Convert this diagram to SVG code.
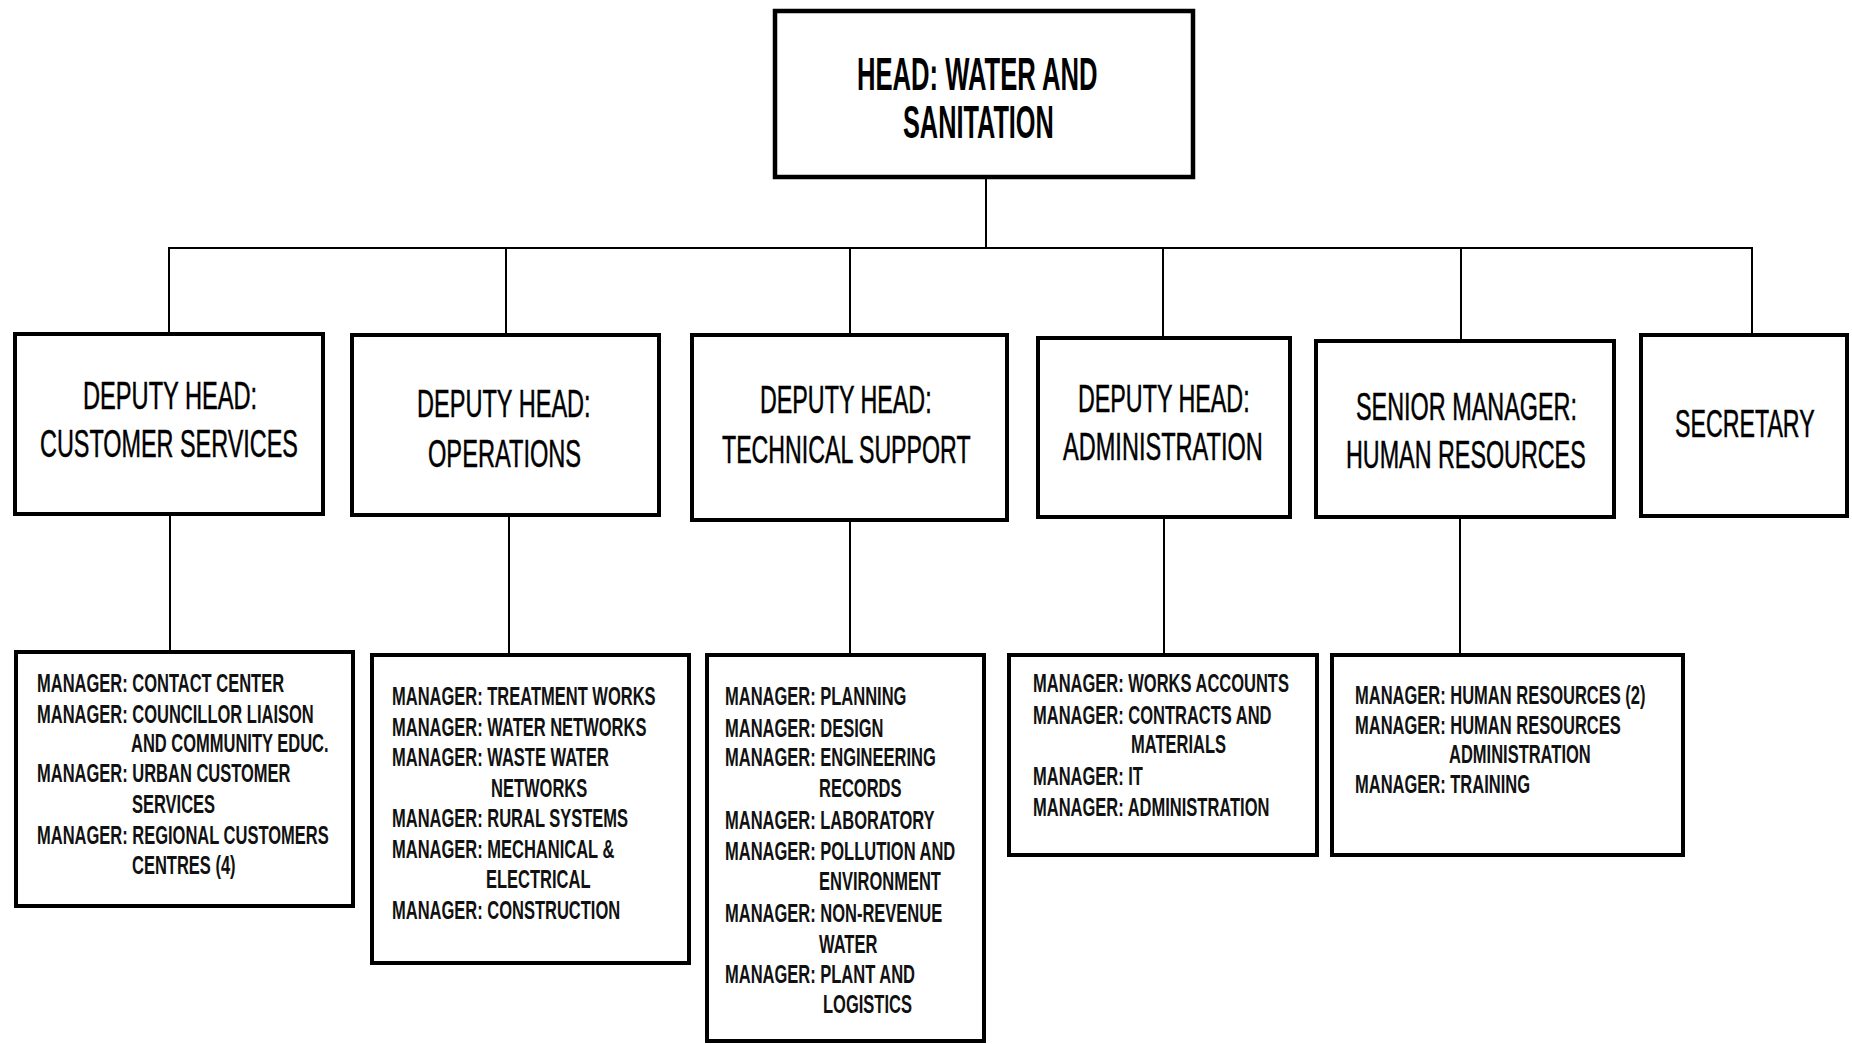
<svg xmlns="http://www.w3.org/2000/svg" width="1852" height="1044" viewBox="0 0 1852 1044">
<style>
.box{fill:#fff;stroke:#000;stroke-width:4}
.top{fill:#fff;stroke:#000;stroke-width:4.5}
.ln{stroke:#000;stroke-width:2;fill:none}
.t1{font-family:"Liberation Sans",Arial,sans-serif;font-weight:bold;font-size:46px;fill:#000}
.t2{font-family:"Liberation Sans",Arial,sans-serif;font-size:38px;fill:#000;stroke:#000;stroke-width:0.5}
.t3{font-family:"Liberation Sans",Arial,sans-serif;font-weight:bold;font-size:25px;fill:#111}
</style>
<rect width="1852" height="1044" fill="#fff"/>
<g id="connectors">
<line class="ln" x1="986" y1="179" x2="986" y2="248"/>
<line class="ln" x1="168" y1="248" x2="1753" y2="248"/>
<line class="ln" x1="169" y1="248" x2="169" y2="332"/>
<line class="ln" x1="506" y1="248" x2="506" y2="333"/>
<line class="ln" x1="850" y1="248" x2="850" y2="333"/>
<line class="ln" x1="1163" y1="248" x2="1163" y2="336"/>
<line class="ln" x1="1461" y1="248" x2="1461" y2="339"/>
<line class="ln" x1="1752" y1="248" x2="1752" y2="333"/>
<line class="ln" x1="170" y1="516" x2="170" y2="650"/>
<line class="ln" x1="509" y1="517" x2="509" y2="653"/>
<line class="ln" x1="850" y1="522" x2="850" y2="653"/>
<line class="ln" x1="1164" y1="519" x2="1164" y2="653"/>
<line class="ln" x1="1460" y1="519" x2="1460" y2="653"/>
</g>
<g id="head">
<rect class="top" x="775" y="11" width="418" height="166"/>
<text class="t1" transform="translate(857,90) scale(0.557,1)">HEAD: WATER AND</text>
<text class="t1" transform="translate(903,138) scale(0.55,1)">SANITATION</text>
</g>
<g id="dh-customer">
<rect class="box" x="15" y="334" width="308" height="180"/>
<text class="t2" transform="translate(83,409) scale(0.622,1)">DEPUTY HEAD:</text>
<text class="t2" transform="translate(40,457) scale(0.616,1)">CUSTOMER SERVICES</text>
</g>
<g id="dh-operations">
<rect class="box" x="352" y="335" width="307" height="180"/>
<text class="t2" transform="translate(417,417) scale(0.62,1)">DEPUTY HEAD:</text>
<text class="t2" transform="translate(428,467) scale(0.622,1)">OPERATIONS</text>
</g>
<g id="dh-technical">
<rect class="box" x="692" y="335" width="315" height="185"/>
<text class="t2" transform="translate(760,413) scale(0.613,1)">DEPUTY HEAD:</text>
<text class="t2" transform="translate(722,463) scale(0.61,1)">TECHNICAL SUPPORT</text>
</g>
<g id="dh-admin">
<rect class="box" x="1038" y="338" width="252" height="179"/>
<text class="t2" transform="translate(1078,412) scale(0.613,1)">DEPUTY HEAD:</text>
<text class="t2" transform="translate(1063,460) scale(0.62,1)">ADMINISTRATION</text>
</g>
<g id="sm-hr">
<rect class="box" x="1316" y="341" width="298" height="176"/>
<text class="t2" transform="translate(1356,420) scale(0.616,1)">SENIOR MANAGER:</text>
<text class="t2" transform="translate(1346,468) scale(0.614,1)">HUMAN RESOURCES</text>
</g>
<g id="secretary">
<rect class="box" x="1641" y="335" width="206" height="181"/>
<text class="t2" transform="translate(1675,437) scale(0.611,1)">SECRETARY</text>
</g>
<g id="mgr-customer">
<rect class="box" x="16" y="652" width="337" height="254"/>
<text class="t3" transform="translate(37,692) scale(0.66,1)">MANAGER: CONTACT CENTER</text>
<text class="t3" transform="translate(37,723) scale(0.66,1)">MANAGER: COUNCILLOR LIAISON</text>
<text class="t3" transform="translate(131,752) scale(0.66,1)">AND COMMUNITY EDUC.</text>
<text class="t3" transform="translate(37,782) scale(0.66,1)">MANAGER: URBAN CUSTOMER</text>
<text class="t3" transform="translate(132,813) scale(0.66,1)">SERVICES</text>
<text class="t3" transform="translate(37,844) scale(0.66,1)">MANAGER: REGIONAL CUSTOMERS</text>
<text class="t3" transform="translate(132,874) scale(0.66,1)">CENTRES (4)</text>
</g>
<g id="mgr-operations">
<rect class="box" x="372" y="655" width="317" height="308"/>
<text class="t3" transform="translate(392,705) scale(0.66,1)">MANAGER: TREATMENT WORKS</text>
<text class="t3" transform="translate(392,736) scale(0.66,1)">MANAGER: WATER NETWORKS</text>
<text class="t3" transform="translate(392,766) scale(0.66,1)">MANAGER: WASTE WATER</text>
<text class="t3" transform="translate(491,797) scale(0.66,1)">NETWORKS</text>
<text class="t3" transform="translate(392,827) scale(0.66,1)">MANAGER: RURAL SYSTEMS</text>
<text class="t3" transform="translate(392,858) scale(0.66,1)">MANAGER: MECHANICAL &amp;</text>
<text class="t3" transform="translate(486,888) scale(0.66,1)">ELECTRICAL</text>
<text class="t3" transform="translate(392,919) scale(0.66,1)">MANAGER: CONSTRUCTION</text>
</g>
<g id="mgr-technical">
<rect class="box" x="707" y="655" width="277" height="386"/>
<text class="t3" transform="translate(725,705) scale(0.66,1)">MANAGER: PLANNING</text>
<text class="t3" transform="translate(725,737) scale(0.66,1)">MANAGER: DESIGN</text>
<text class="t3" transform="translate(725,766) scale(0.66,1)">MANAGER: ENGINEERING</text>
<text class="t3" transform="translate(819,797) scale(0.66,1)">RECORDS</text>
<text class="t3" transform="translate(725,829) scale(0.66,1)">MANAGER: LABORATORY</text>
<text class="t3" transform="translate(725,860) scale(0.66,1)">MANAGER: POLLUTION AND</text>
<text class="t3" transform="translate(819,890) scale(0.66,1)">ENVIRONMENT</text>
<text class="t3" transform="translate(725,922) scale(0.66,1)">MANAGER: NON-REVENUE</text>
<text class="t3" transform="translate(819,953) scale(0.66,1)">WATER</text>
<text class="t3" transform="translate(725,983) scale(0.66,1)">MANAGER: PLANT AND</text>
<text class="t3" transform="translate(823,1013) scale(0.66,1)">LOGISTICS</text>
</g>
<g id="mgr-admin">
<rect class="box" x="1009" y="655" width="308" height="200"/>
<text class="t3" transform="translate(1033,692) scale(0.66,1)">MANAGER: WORKS ACCOUNTS</text>
<text class="t3" transform="translate(1033,724) scale(0.66,1)">MANAGER: CONTRACTS AND</text>
<text class="t3" transform="translate(1131,753) scale(0.66,1)">MATERIALS</text>
<text class="t3" transform="translate(1033,785) scale(0.66,1)">MANAGER: IT</text>
<text class="t3" transform="translate(1033,816) scale(0.66,1)">MANAGER: ADMINISTRATION</text>
</g>
<g id="mgr-hr">
<rect class="box" x="1332" y="655" width="351" height="200"/>
<text class="t3" transform="translate(1355,704) scale(0.66,1)">MANAGER: HUMAN RESOURCES (2)</text>
<text class="t3" transform="translate(1355,734) scale(0.66,1)">MANAGER: HUMAN RESOURCES</text>
<text class="t3" transform="translate(1449,763) scale(0.66,1)">ADMINISTRATION</text>
<text class="t3" transform="translate(1355,793) scale(0.66,1)">MANAGER: TRAINING</text>
</g>
</svg>
